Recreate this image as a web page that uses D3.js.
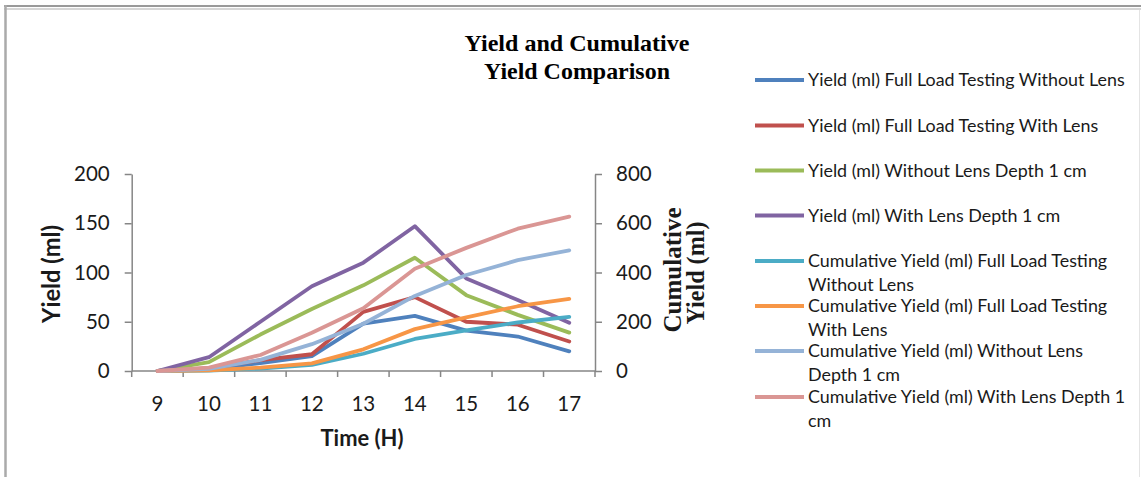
<!DOCTYPE html>
<html><head><meta charset="utf-8">
<script src="https://cdn.jsdelivr.net/npm/d3@7"></script>
<style>html,body{margin:0;padding:0;background:#fff;}svg{display:block;}</style>
</head><body>
<svg id="c" width="1141" height="477"></svg>
<script>
const hours = [9, 10, 11, 12, 13, 14, 15, 16, 17];
const yieldNoLens      = [0, 2, 8, 15, 48, 56, 41, 35, 20];
const yieldLens        = [0, 3, 11, 17, 60, 75, 50, 47, 30];
const yieldNoLensDepth = [0, 9, 37, 63, 87, 115, 77, 57, 39];
const yieldLensDepth   = [0, 14, 50, 86, 110, 147, 94, 72, 49];
const cumNoLens        = [0, 2, 10, 25, 70, 130, 165, 197, 220];
const cumLens          = [0, 3, 14, 31, 88, 170, 218, 263, 293];
const cumNoLensDepth   = [0, 9, 45, 109, 192, 305, 390, 450, 490];
const cumLensDepth     = [0, 14, 65, 155, 255, 415, 500, 578, 627];
const leftTicks = [0, 50, 100, 150, 200];
const rightTicks = [0, 200, 400, 600, 800];
const seriesNames = [
  ["Yield (ml) Full Load Testing Without Lens"],
  ["Yield (ml) Full Load Testing With Lens"],
  ["Yield (ml) Without Lens Depth 1 cm"],
  ["Yield (ml) With Lens Depth 1 cm"],
  ["Cumulative Yield (ml) Full Load Testing", "Without Lens"],
  ["Cumulative Yield (ml) Full Load Testing", "With Lens"],
  ["Cumulative Yield (ml) Without Lens", "Depth 1 cm"],
  ["Cumulative Yield (ml) With Lens Depth 1", "cm"]
];
const colors = ["#4F81BD", "#C0504D", "#9BBB59", "#8064A2", "#4BACC6", "#F79646", "#95B3D7", "#DA9694"];
const series = [
  {v: yieldNoLens, ax: "L"}, {v: yieldLens, ax: "L"}, {v: yieldNoLensDepth, ax: "L"}, {v: yieldLensDepth, ax: "L"},
  {v: cumNoLens, ax: "R"}, {v: cumLens, ax: "R"}, {v: cumNoLensDepth, ax: "R"}, {v: cumLensDepth, ax: "R"}
];

const svg = d3.select("#c");
const SANS = "Lato, 'Open Sans', sans-serif";
const SERIF = "'Liberation Serif', 'DejaVu Serif', serif";

function fit(t, w) {
  const n = t.node();
  const fs = parseFloat(t.attr("font-size"));
  const cw = n.getComputedTextLength();
  if (cw > 0) t.attr("font-size", (fs * w / cw).toFixed(2));
  return t;
}

// frame
svg.append("line").attr("x1", 4).attr("x2", 1141).attr("y1", 6).attr("y2", 6).attr("stroke", "#9a9a9a").attr("stroke-width", 2);
svg.append("line").attr("x1", 4).attr("x2", 1141).attr("y1", 9).attr("y2", 9).attr("stroke", "#c8c8c8").attr("stroke-width", 1.5);
svg.append("line").attr("x1", 5.5).attr("x2", 5.5).attr("y1", 5).attr("y2", 477).attr("stroke", "#aaaaaa").attr("stroke-width", 2.5);
svg.append("line").attr("x1", 1139.5).attr("x2", 1139.5).attr("y1", 10).attr("y2", 477).attr("stroke", "#e4e4e4").attr("stroke-width", 1);

const x0 = 131.7, x1 = 595, yTop = 174, yBot = 371;
const x = d3.scaleBand().domain(hours).range([x0, x1]);
const yL = d3.scaleLinear().domain([0, 200]).range([yBot, yTop]);
const yR = d3.scaleLinear().domain([0, 800]).range([yBot, yTop]);

const axisColor = "#868686";
const TICK_FS = 20.5;
// left axis
const gL = svg.append("g").attr("transform", `translate(${x0},0)`)
  .call(d3.axisLeft(yL).tickValues(leftTicks).tickSize(7).tickPadding(15).tickSizeOuter(0));
// right axis
const gR = svg.append("g").attr("transform", `translate(${x1},0)`)
  .call(d3.axisRight(yR).tickValues(rightTicks).tickSize(7).tickPadding(14).tickSizeOuter(0));
// bottom axis: ticks at category boundaries
const bounds = hours.map(h => x(h)).concat([x1]);
const gB = svg.append("g").attr("transform", `translate(0,${yBot})`);
gB.append("line").attr("x1", x0).attr("x2", x1).attr("stroke", axisColor).attr("stroke-width", 1.5);
gB.selectAll("line.t").data(bounds).join("line").attr("class", "t")
  .attr("x1", d => d).attr("x2", d => d).attr("y1", 0).attr("y2", 6).attr("stroke", axisColor).attr("stroke-width", 1.5);
gB.selectAll("text").data(hours).join("text")
  .attr("x", d => x(d) + x.bandwidth() / 2).attr("y", 40)
  .attr("text-anchor", "middle").attr("font-family", SANS).attr("font-size", TICK_FS).attr("fill", "#1a1a1a").text(d => d);

[gL, gR].forEach(g => {
  g.select(".domain").attr("stroke", axisColor).attr("stroke-width", 1.5);
  g.selectAll(".tick line").attr("stroke", axisColor).attr("stroke-width", 1.5);
  g.selectAll(".tick text").attr("font-family", SANS).attr("font-size", TICK_FS).attr("fill", "#1a1a1a");
});

// lines
series.forEach((s, i) => {
  const ys = s.ax === "L" ? yL : yR;
  const line = d3.line().x((d, j) => x(hours[j]) + x.bandwidth() / 2).y(d => ys(d));
  svg.append("path").datum(s.v).attr("d", line).attr("fill", "none")
    .attr("stroke", colors[i]).attr("stroke-width", 3.8).attr("stroke-linejoin", "round").attr("stroke-linecap", "round");
});

// title
fit(svg.append("text").attr("x", 577).attr("y", 51).attr("text-anchor", "middle").attr("font-family", SERIF)
  .attr("font-weight", "bold").attr("font-size", 21).text("Yield and Cumulative"), 225);
fit(svg.append("text").attr("x", 577).attr("y", 79).attr("text-anchor", "middle").attr("font-family", SERIF)
  .attr("font-weight", "bold").attr("font-size", 21).text("Yield Comparison"), 186);

// axis titles
fit(svg.append("text").attr("transform", "translate(60,274) rotate(-90)").attr("text-anchor", "middle")
  .attr("font-family", SANS).attr("font-weight", "bold").attr("font-size", 19).attr("fill", "#1a1a1a").text("Yield (ml)"), 98);
fit(svg.append("text").attr("transform", "translate(681,270) rotate(-90)").attr("text-anchor", "middle")
  .attr("font-family", SERIF).attr("font-weight", "bold").attr("font-size", 21).attr("fill", "#1a1a1a").text("Cumulative"), 125);
fit(svg.append("text").attr("transform", "translate(704,273) rotate(-90)").attr("text-anchor", "middle")
  .attr("font-family", SERIF).attr("font-weight", "bold").attr("font-size", 21).attr("fill", "#1a1a1a").text("Yield (ml)"), 103);
fit(svg.append("text").attr("x", 362).attr("y", 446).attr("text-anchor", "middle")
  .attr("font-family", SANS).attr("font-weight", "bold").attr("font-size", 17).attr("fill", "#1a1a1a").text("Time (H)"), 83);

// legend
const legY = [80, 125.5, 170.5, 215.5, 261, 306, 351, 397];
const probe = svg.append("text").attr("font-family", SANS).attr("font-size", 15).text(seriesNames[0][0]);
const legFs = 15 * 317 / probe.node().getComputedTextLength();
probe.remove();
const leg = svg.append("g");
seriesNames.forEach((names, i) => {
  leg.append("line").attr("x1", 755).attr("x2", 804).attr("y1", legY[i]).attr("y2", legY[i])
    .attr("stroke", colors[i]).attr("stroke-width", 4);
  names.forEach((t, k) => {
    leg.append("text").attr("x", 808).attr("y", legY[i] + 6 + k * 23.5)
      .attr("font-family", SANS).attr("font-size", legFs.toFixed(2)).attr("fill", "#1a1a1a").text(t);
  });
});
</script>
</body></html>
